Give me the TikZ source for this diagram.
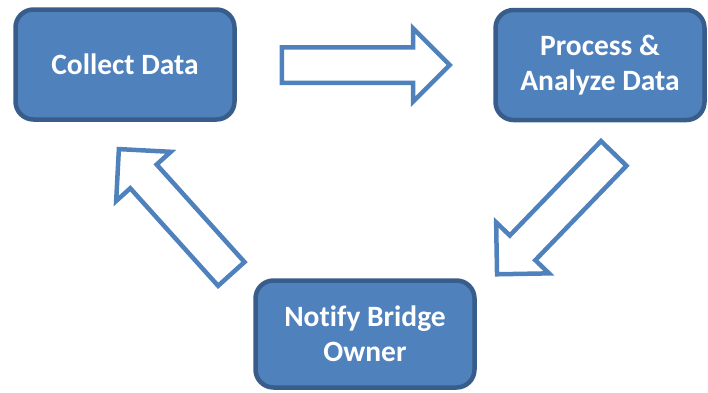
\documentclass[tikz,border=0pt]{standalone}
\usepackage{fontspec}
\setmainfont{Carlito}[Ligatures=NoCommon]
\usepackage{xcolor}
\usepackage{tikz}
\usetikzlibrary{shapes.arrows, positioning}
\definecolor{stepfill}{HTML}{4F81BD}
\definecolor{stepedge}{HTML}{385D8A}

\begin{document}
\begin{tikzpicture}[
  x=1pt, y=-1pt,
  every node/.style={align=center},
  box/.style={draw=stepedge, line width=4.5pt, fill=stepfill, rounded corners=18pt,
              text=white, font=\fontsize{29.5}{35}\selectfont\bfseries,
              minimum width=219pt, minimum height=110pt, inner sep=0pt},
  blockarr/.style={single arrow, draw=stepfill, line width=4.5pt, fill=white,
              minimum height=168pt, inner xsep=0pt, inner ysep=15.5pt,
              single arrow head extend=19pt, single arrow head indent=0pt,
              anchor=tail}
]
\useasboundingbox (0,0) rectangle (708,392);

% Steps of the cycle
\node[box] (collect) at (125,64.5) {Collect Data};
\node[box, minimum width=209pt] (process) at (600,65) {Process \&\\Analyze Data};
\node[box, minimum height=107pt] (notify) at (365,334) {Notify Bridge\\Owner};

% Block arrows between steps
\node[blockarr] (toprocess) at (279.5,65) {};
\node[blockarr, rotate=226] (tonotify) at (615.3,151.8) {};
\node[blockarr, rotate=132] (tocollect) at (232.8,275.6) {};

\end{tikzpicture}
\end{document}
